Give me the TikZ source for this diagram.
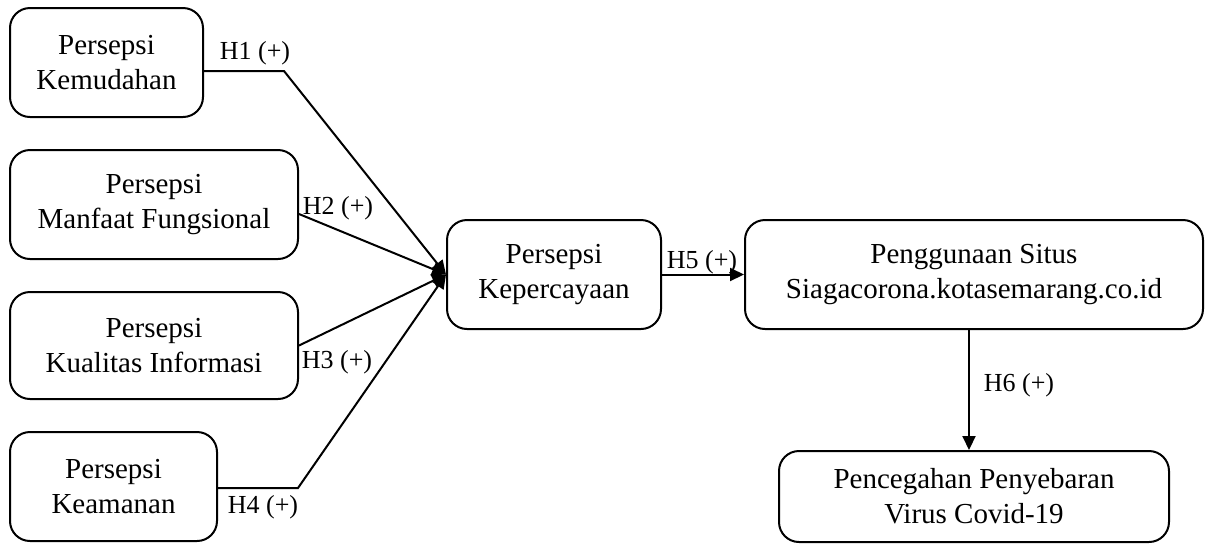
\documentclass[tikz,border=0pt]{standalone}
\usepackage{fontspec}
\setmainfont{Liberation Serif}
\usetikzlibrary{arrows.meta}
\tikzset{
  kotak/.style={draw,line width=1pt,rounded corners=10pt,align=center,inner sep=0pt,
    font=\fontsize{14.5}{17.5}\selectfont},
  panah/.style={line width=1pt,-{Triangle[length=7pt,width=6.5pt]}},
  hip/.style={inner sep=0pt,font=\fontsize{13}{15}\selectfont}
}
\begin{document}
\begin{tikzpicture}  % ------ Model penelitian --------------
      [x=0.5pt,y=-0.5pt]
    \useasboundingbox (0,0) rectangle (1205,543);
    % variabel bebas
    \node[kotak,minimum width=96.5pt,minimum height=54.5pt] (kem) at (106.5,62.5) {Persepsi\\Kemudahan};
    \node[kotak,minimum width=144pt,minimum height=54.5pt] (man) at (154,204.5) {Persepsi\\Manfaat Fungsional};
    \node[kotak,minimum width=144pt,minimum height=53.5pt] (kua) at (154,345.5) {Persepsi\\Kualitas Informasi};
    \node[kotak,minimum width=103.5pt,minimum height=54.5pt] (kea) at (113.5,486.5) {Persepsi\\Keamanan};
    % mediasi dan hasil
    \node[kotak,minimum width=107pt,minimum height=54.5pt] (kep) at (554,274.5) {Persepsi\\Kepercayaan};
    \node[kotak,minimum width=229pt,minimum height=54.5pt] (peng) at (974,274.5) {Penggunaan Situs\\Siagacorona.kotasemarang.co.id};
    \node[kotak,minimum width=195pt,minimum height=45.5pt] (pen) at (974,496.5) {Pencegahan Penyebaran\\Virus Covid-19};

    \coordinate (B1) at (284,71);
    \coordinate (B4) at (298,488);

    \draw[panah] (kem.east |- B1) -- (B1) -- (kep.west);
    \draw[panah] ([yshift=-4.75pt]man.east) -- (kep.west);
    \draw[panah] (kua.east) -- (kep.west);
    \draw[panah] (kea.east |- B4) -- (B4) -- (kep.west);
    \draw[panah] (kep.east) -- (peng.west);
    \draw[panah] ([xshift=-2.5pt]peng.south) -- ([xshift=-2.5pt]pen.north);

    \node[hip] (h1) at (255,53) {H1 (+)};
    \node[hip] (h2) at (338,208) {H2 (+)};
    \node[hip] (h3) at (337,362) {H3 (+)};
    \node[hip] (h4) at (263,507) {H4 (+)};
    \node[hip] (h5) at (702,262) {H5 (+)};
    \node[hip] (h6) at (1019,385) {H6 (+)};
\end{tikzpicture}
\end{document}
